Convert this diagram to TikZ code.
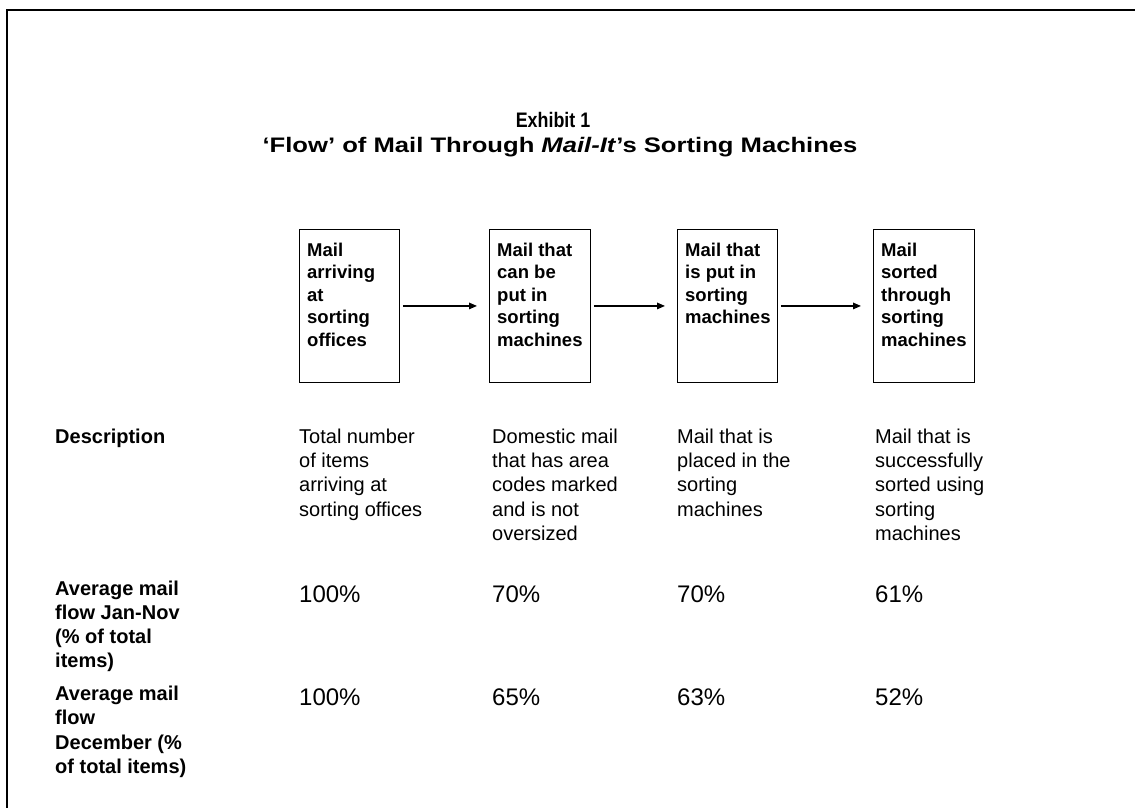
\documentclass[tikz,border=0pt]{standalone}
\usepackage{fontspec}
\setmainfont{Liberation Sans}
\usetikzlibrary{arrows.meta}
\newcommand\mylines[3]{\parbox[t]{260pt}{\raggedright\fontsize{#1}{#2}\selectfont #3}}
\tikzset{
  flowbox/.style={draw=black, line width=0.9pt, anchor=north west, inner sep=0pt, minimum width=100pt, minimum height=153pt},
  boxtext/.style={anchor=base west, inner sep=0pt, font=\bfseries},
  celltext/.style={anchor=base west, inner sep=0pt},
  titletext/.style={anchor=base, inner sep=0pt, font=\fontsize{21}{25}\selectfont\bfseries},
  flowarrow/.style={line width=1.4pt, -{Triangle[length=8pt,width=6.5pt]}, shorten <=3pt, shorten >=12pt}
}
\begin{document}
\begin{tikzpicture}[x=1pt, y=-1pt]
\useasboundingbox (0,0) rectangle (1135,808);
% frame
\draw[line width=2pt] (7,810) -- (7,10) -- (1137,10);
% title
\node[titletext] (t1) at (553,127) {\scalebox{0.85}[1]{Exhibit 1}};
\node[titletext] (t2) at (560,152) {\scalebox{1.22}[1]{‘Flow’ of Mail Through \textit{Mail-It}’s Sorting Machines}};
% boxes
\node[flowbox] (b1) at (299,229) {};
\node[flowbox, minimum width=101pt] (b2) at (489,229) {};
\node[flowbox] (b3) at (677,229) {};
\node[flowbox, minimum width=101pt] (b4) at (873,229) {};
\node[boxtext] (bt1) at ([xshift=8pt,yshift=-27pt]b1.north west) {\mylines{18.5}{22.6}{\bfseries Mail\\arriving\\at\\sorting\\offices}};
\node[boxtext] (bt2) at ([xshift=8pt,yshift=-27pt]b2.north west) {\mylines{18.5}{22.6}{\bfseries Mail that\\can be\\put in\\sorting\\machines}};
\node[boxtext] (bt3) at ([xshift=8pt,yshift=-27pt]b3.north west) {\mylines{18.5}{22.6}{\bfseries Mail that\\is put in\\sorting\\machines}};
\node[boxtext] (bt4) at ([xshift=8pt,yshift=-27pt]b4.north west) {\mylines{18.5}{22.6}{\bfseries Mail\\sorted\\through\\sorting\\machines}};
% arrows
\draw[flowarrow] (b1.east) -- (b2.west);
\draw[flowarrow] (b2.east) -- (b3.west);
\draw[flowarrow] (b3.east) -- (b4.west);
% row labels
\node[celltext] (l1) at (55,443) {\mylines{20}{24.4}{\bfseries Description}};
\node[celltext] (l2) at (55,595) {\mylines{20}{24.3}{\bfseries Average mail\\flow Jan-Nov\\(\% of total\\items)}};
\node[celltext] (l3) at (55,700.7) {\mylines{20}{24.2}{\bfseries Average mail\\flow\\December (\%\\of total items)}};
% descriptions
\node[celltext] (d1) at (299,443) {\mylines{20}{24.4}{Total number\\of items\\arriving at\\sorting offices}};
\node[celltext] (d2) at (492,443) {\mylines{20}{24.4}{Domestic mail\\that has area\\codes marked\\and is not\\oversized}};
\node[celltext] (d3) at (677,443) {\mylines{20}{24.4}{Mail that is\\placed in the\\sorting\\machines}};
\node[celltext] (d4) at (875,443) {\mylines{20}{24.4}{Mail that is\\successfully\\sorted using\\sorting\\machines}};
% percentages Jan-Nov
\node[celltext] (p11) at (299,602) {\fontsize{24}{28}\selectfont 100\%};
\node[celltext] (p12) at (492,602) {\fontsize{24}{28}\selectfont 70\%};
\node[celltext] (p13) at (677,602) {\fontsize{24}{28}\selectfont 70\%};
\node[celltext] (p14) at (875,602) {\fontsize{24}{28}\selectfont 61\%};
% percentages December
\node[celltext] (p21) at (299,705) {\fontsize{24}{28}\selectfont 100\%};
\node[celltext] (p22) at (492,705) {\fontsize{24}{28}\selectfont 65\%};
\node[celltext] (p23) at (677,705) {\fontsize{24}{28}\selectfont 63\%};
\node[celltext] (p24) at (875,705) {\fontsize{24}{28}\selectfont 52\%};
\end{tikzpicture}
\end{document}
